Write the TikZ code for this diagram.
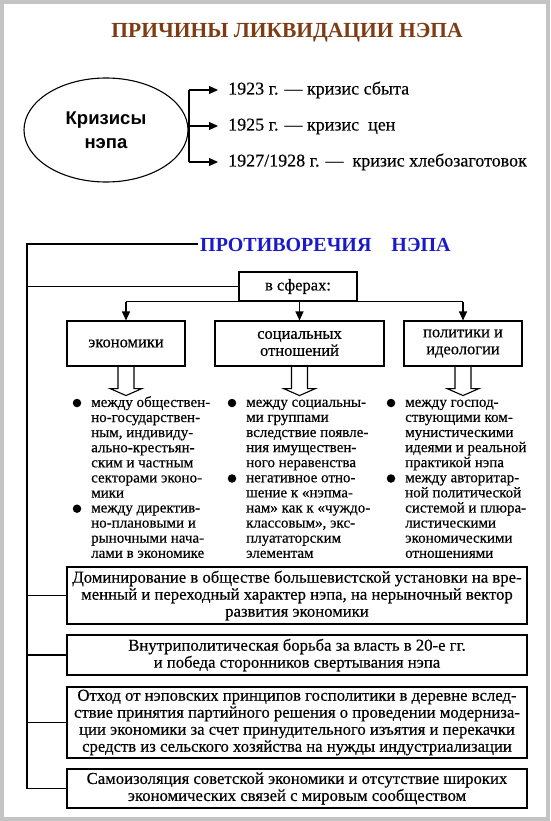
\documentclass[tikz,border=0pt]{standalone}
\usepackage{fontspec}
\setmainfont{Liberation Serif}
\newfontfamily\bodyfont[FakeBold=0.35]{Liberation Serif}
\newfontfamily\sansb{Liberation Sans}
\usetikzlibrary{arrows.meta,shapes.geometric}
\definecolor{titlebrown}{HTML}{7D3C14}
\definecolor{titleblue}{HTML}{1A1AC8}
\definecolor{framegray}{HTML}{C4C4C4}
\tikzset{
  ln/.style={line width=1.1pt},
  tip/.style={-{Triangle[length=9pt,width=8pt]}},
  crisis/.style={anchor=west, inner sep=0pt, text height=12.6pt, text depth=3.6pt, font=\bodyfont\fontsize{18}{21}\selectfont},
  box/.style={draw, line width=1.1pt, inner sep=0pt, align=center},
  rowbox/.style={box, minimum height=45pt, font=\bodyfont\fontsize{16.5}{17}\selectfont},
  bigbox/.style={box, minimum width=460pt, font=\bodyfont\fontsize{16.7}{17}\selectfont},
  item/.style={anchor=north west, inner sep=0pt, align=left, font=\bodyfont\fontsize{15}{15.1}\selectfont},
  dot/.style={circle, fill=black, inner sep=0pt, minimum size=8.5pt},
  hollow/.style={line width=1.1pt}
}
\begin{document}
\begin{tikzpicture}[x=1pt,y=-1pt]
\fill[framegray] (0,0) rectangle (550,821);
\fill[white] (4,4) rectangle (546,817);
\useasboundingbox (0,0) rectangle (550,821);

% title
\node[font=\bfseries\fontsize{21.5}{24}\selectfont, text=titlebrown, inner sep=0pt] (t1) at (287,33) {ПРИЧИНЫ ЛИКВИДАЦИИ НЭПА};

% crises
\node[draw, ln, ellipse, minimum width=164pt, minimum height=104pt, inner sep=0pt, align=center,
      font=\sansb\bfseries\fontsize{18.5}{24}\selectfont] (el) at (106,130) {Кризисы\\нэпа};
\coordinate (b1) at (189,90);
\coordinate (b2) at (189,126);
\coordinate (b3) at (189,162);
\node[crisis] (c1) at (228,90) {1923 г. — кризис сбыта};
\node[crisis] (c2) at (228,126) {1925 г. — кризис~ цен};
\node[crisis] (c3) at (228,162) {1927/1928 г. —~ кризис хлебозаготовок};
\draw[ln] (b1) -- (b3);
\draw[ln, tip, shorten >=10pt] (b1) -- (c1.west);
\draw[ln, tip, shorten >=10pt] (b2) -- (c2.west);
\draw[ln, tip, shorten >=10pt] (b3) -- (c3.west);

% contradictions
\node[anchor=west, inner sep=2pt, text height=14pt, text depth=0pt, font=\bfseries\fontsize{20}{22}\selectfont, text=titleblue] (t2) at (198,244) {ПРОТИВОРЕЧИЯ\hspace{20pt}НЭПА};
\coordinate (L0) at (27,244);

\node[box, minimum width=118pt, minimum height=29pt, font=\bodyfont\fontsize{16.5}{18}\selectfont] (sf) at (298,286.5) {в сферах:};

\node[rowbox, minimum width=118pt] (e1) at (126,343.5) {экономики};
\node[rowbox, minimum width=169pt] (e2) at (299.5,343.5) {социальных\\отношений};
\node[rowbox, minimum width=118pt] (e3) at (463,343.5) {политики и\\идеологии};

\draw[ln] (e1.north |- sf.south) -- (e3.north |- sf.south);
\draw[ln, tip] (e1.north |- sf.south) -- (e1.north);
\draw[ln, tip] (e2.north |- sf.south) -- (e2.north);
\draw[ln, tip] (e3.north |- sf.south) -- (e3.north);

\foreach \b in {e1,e2,e3}{
  \draw[hollow] (\b.south) ++(-8,0) -- ++(0,22) -- ++(-8,0) -- ++(16,7) -- ++(16,-7) -- ++(-8,0) -- ++(0,-22);
}

% bullet columns
\node[dot] (d11) at (77,403) {};
\node[item] (i11) at (91,396) {\strut между обществен-\\но-государствен-\\ным, индивиду-\\ально-крестьян-\\ским и частным\\секторами эконо-\\мики};
\node[dot] (d12) at (77,508.7) {};
\node[item] (i12) at (91,501.7) {\strut между директив-\\но-плановыми и\\рыночными нача-\\лами в экономике};

\node[dot] (d21) at (232,403) {};
\node[item] (i21) at (246,396) {\strut между социальны-\\ми группами\\вследствие появле-\\ния имуществен-\\ного неравенства};
\node[dot] (d22) at (232,478.5) {};
\node[item] (i22) at (246,471.5) {\strut негативное отно-\\шение к «нэпма-\\нам» как к «чуждо-\\классовым», экс-\\плуататорским\\элементам};

\node[dot] (d31) at (391,403) {};
\node[item] (i31) at (405,396) {\strut между господ-\\ствующими ком-\\мунистическими\\идеями и реальной\\практикой нэпа};
\node[dot] (d32) at (391,478.5) {};
\node[item] (i32) at (405,471.5) {\strut между авторитар-\\ной политической\\системой и плюра-\\листическими\\экономическими\\отношениями};

% bottom boxes
\node[bigbox, minimum height=57pt] (B4) at (297,595.5) {Доминирование в обществе большевистской установки на вре-\\менный и переходный характер нэпа, на нерыночный вектор\\развития экономики};
\node[bigbox, minimum height=40pt] (B5) at (297,655) {Внутриполитическая борьба за власть в 20-е гг.\\и победа сторонников свертывания нэпа};
\node[bigbox, minimum height=71pt] (B6) at (297,722.5) {Отход от нэповских принципов госполитики в деревне вслед-\\ствие принятия партийного решения о проведении модерниза-\\ции экономики за счет принудительного изъятия и перекачки\\средств из сельского хозяйства на нужды индустриализации};
\node[bigbox, minimum height=39pt] (B7) at (297,788.5) {Самоизоляция советской экономики и отсутствие широких\\экономических связей с мировым сообществом};

% left spine
\draw[ln] (t2.west) -- (L0) |- (B7.west);
\draw[ln] (sf.west) -- (sf.west -| L0);
\draw[ln] (B4.west) -- (B4.west -| L0);
\draw[ln] (B5.west) -- (B5.west -| L0);
\draw[ln] (B6.west) -- (B6.west -| L0);
\end{tikzpicture}
\end{document}
